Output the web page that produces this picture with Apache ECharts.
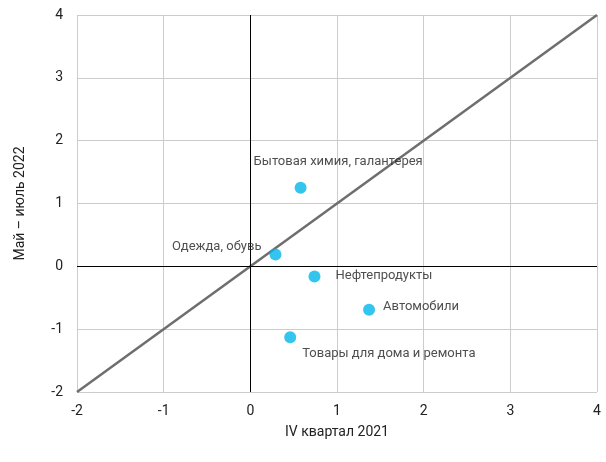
<!DOCTYPE html>
<html><head><meta charset="utf-8">
<script src="https://cdn.jsdelivr.net/npm/echarts@6/dist/echarts.min.js"></script>
<style>html,body{margin:0;padding:0;background:#fff}#c{width:606px;height:462px}</style>
</head><body><div id="c"></div>
<script>
const names = ['Бытовая химия, галантерея','Одежда, обувь','Нефтепродукты','Автомобили','Товары для дома и ремонта'];
const xVals = [0.58, 0.29, 0.74, 1.37, 0.46];
const yVals = [1.25, 0.19, -0.16, -0.69, -1.13];
const labelPos = ['topLeft','left','right1','right2','bottomRight'];
const diagonal = [[-2,-2],[4,4]];
const xName = 'IV квартал 2021';
const yName = 'Май – июль 2022';

const font = 'Roboto';
const posMap = {
  topLeft: {position:'right', offset:[-58,-26]},
  left: {position:'left', offset:[-3,-8]},
  right1: {position:'right', offset:[10,-1]},
  right2: {position:'right', offset:[3,-3]},
  bottomRight: {position:'right', offset:[1,16]}
};
const pts = names.map((n,i)=>({
  value:[xVals[i], yVals[i]], name:n,
  label:Object.assign({show:true, formatter:n, color:'#222', fontSize:13, fontFamily:font}, posMap[labelPos[i]])
}));

const chart = echarts.init(document.getElementById('c'));
chart.setOption({
  animation:false,
  grid:{left:77,right:9,top:15,bottom:70},
  xAxis:{type:'value',min:-2,max:4,interval:1,
    name:xName,nameLocation:'middle',nameGap:33,
    nameTextStyle:{fontSize:14,color:'#222',fontFamily:font},
    axisLine:{show:false,onZero:false},axisTick:{show:false},
    axisLabel:{fontSize:14,color:'#222',fontFamily:font,margin:12},
    splitLine:{show:true,lineStyle:{color:'#cccccc',width:1}}},
  yAxis:{type:'value',min:-2,max:4,interval:1,
    name:yName,nameLocation:'middle',nameGap:50,
    nameTextStyle:{fontSize:14,color:'#222',fontFamily:font},
    axisLine:{show:false,onZero:false},axisTick:{show:false},
    axisLabel:{fontSize:14,color:'#222',fontFamily:font,margin:14},
    splitLine:{show:true,lineStyle:{color:'#cccccc',width:1}}},
  series:[
    {type:'line',data:diagonal,symbol:'none',silent:true,
     lineStyle:{color:'#6e6e6e',width:2.5},z:3,
     markLine:{silent:true,symbol:'none',label:{show:false},
       lineStyle:{color:'#000',width:1,type:'solid'},
       data:[{xAxis:0},{yAxis:0}]}},
    {type:'scatter',data:pts,symbolSize:12,itemStyle:{color:'#00b6e8'},z:5}
  ]
});
</script></body></html>
